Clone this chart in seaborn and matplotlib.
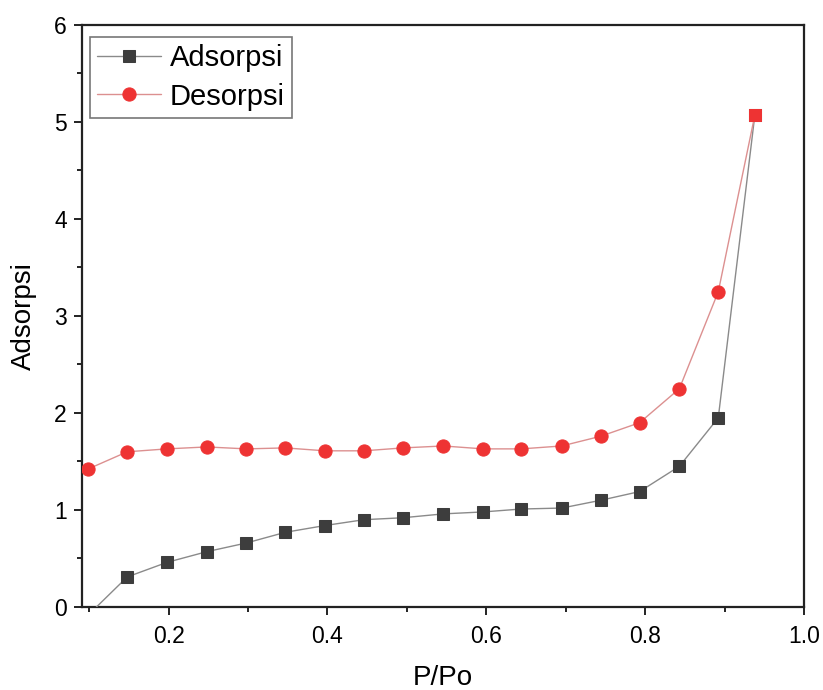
import numpy as np
import pandas as pd
import matplotlib
matplotlib.use("Agg")
import matplotlib.pyplot as plt
import seaborn as sns
from matplotlib.ticker import MultipleLocator

# Relative pressure and adsorbed amount for the isotherm branches
p_po = [0.098, 0.148, 0.198, 0.248, 0.298, 0.347, 0.397, 0.446, 0.495,
        0.546, 0.596, 0.644, 0.695, 0.744, 0.793, 0.843, 0.892, 0.938]
adsorpsi = [-0.09, 0.31, 0.46, 0.57, 0.66, 0.77, 0.84, 0.90, 0.92,
            0.96, 0.98, 1.01, 1.02, 1.10, 1.19, 1.45, 1.95, 5.07]
desorpsi = [1.42, 1.60, 1.63, 1.65, 1.63, 1.64, 1.61, 1.61, 1.64,
            1.66, 1.63, 1.63, 1.66, 1.76, 1.90, 2.25, 3.25, 5.07]

x_ticks = [0.2, 0.4, 0.6, 0.8, 1.0]
y_ticks = [0, 1, 2, 3, 4, 5, 6]

sns.set_style("ticks")
plt.rcParams["font.family"] = ["Liberation Sans", "DejaVu Sans"]
plt.rcParams["text.color"] = "black"
plt.rcParams["axes.labelcolor"] = "black"
plt.rcParams["xtick.color"] = "black"
plt.rcParams["ytick.color"] = "black"

df = pd.DataFrame({"P/Po": p_po, "Adsorpsi": adsorpsi, "Desorpsi": desorpsi})

fig = plt.figure(figsize=(8.23, 6.90), dpi=100)
ax = fig.add_axes([0.0996, 0.1203, 0.8774, 0.8435])

sns.lineplot(data=df, x="P/Po", y="Adsorpsi", ax=ax, sort=False,
             color="#8a8a8a", linewidth=1.0, marker="s", markersize=8.5,
             markerfacecolor="#3d3d3d", markeredgecolor="#3d3d3d",
             label="Adsorpsi", zorder=3)
sns.lineplot(data=df, x="P/Po", y="Desorpsi", ax=ax, sort=False,
             color="#dc9090", linewidth=1.0, marker="o", markersize=9.5,
             markerfacecolor="#ee3333", markeredgecolor="#ee3333",
             markevery=list(range(len(p_po) - 1)),
             label="Desorpsi", zorder=4)
# closure point of the hysteresis loop
sns.scatterplot(x=[p_po[-1]], y=[desorpsi[-1]], ax=ax, marker="s", s=85,
                color="#ee3333", edgecolor="#ee3333", zorder=5, legend=False)

ax.set_xlim(0.091, 1.0)
ax.set_ylim(0, 6)
ax.set_xticks(x_ticks)
ax.set_xticklabels([f"{t:.1f}" for t in x_ticks])
ax.set_yticks(y_ticks)
ax.xaxis.set_minor_locator(MultipleLocator(0.1))
ax.yaxis.set_minor_locator(MultipleLocator(0.5))
ax.tick_params(axis="both", which="major", length=6, width=1.4,
               labelsize=16.5, direction="out", color="#222222")
ax.tick_params(axis="x", which="major", pad=7)
ax.tick_params(axis="y", which="major", pad=5)
ax.tick_params(axis="both", which="minor", length=3.5, width=1.4,
               direction="out", color="#222222")
ax.tick_params(top=False, right=False)
for s in ax.spines.values():
    s.set_visible(True)
    s.set_linewidth(1.6)
    s.set_color("#222222")

ax.set_xlabel("P/Po", fontsize=20, labelpad=12)
ax.set_ylabel("Adsorpsi", fontsize=20, labelpad=12)

leg = ax.legend(loc="upper left", bbox_to_anchor=(0.011, 0.979),
                borderaxespad=0, fontsize=21, frameon=True, fancybox=False,
                handlelength=2.2, handletextpad=0.3, labelspacing=0.35,
                borderpad=0.25, edgecolor="#555555")
leg.get_frame().set_linewidth(1.2)

fig.savefig("out.png", dpi=100, facecolor="white")
